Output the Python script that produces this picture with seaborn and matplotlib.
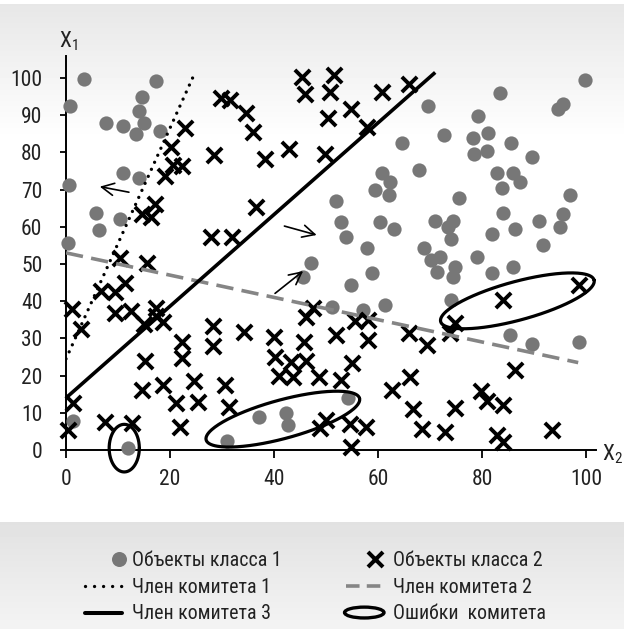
import numpy as np
import pandas as pd
import seaborn as sns
import matplotlib.pyplot as plt
from matplotlib.lines import Line2D
from matplotlib.patches import Ellipse
from matplotlib.legend_handler import HandlerLine2D, HandlerPatch

# class 1 objects (grey dots)
class1_x = [3.5, 0.8, 7.7, 10.9, 13.5, 14, 15, 14.7, 17.4, 18, 0.6, 10.9, 14.1, 5.7, 6.3, 10.3, 0.4,
            1.3, 11.9, 31, 37.2, 42.3, 42.6, 54.2, 47.1, 45.6,
            99.9, 83.5, 69.6, 95.6, 94.7, 79.2, 81.2, 78.3, 72.6, 85.5, 64.6, 80.9, 78.5, 89.6, 67.8,
            60.7, 62.3, 59.4, 62.2, 82.8, 86, 87.4, 83.8, 96.9, 75.6, 51.9, 95.6, 95, 84.1, 91, 86.3,
            81.9, 71, 74.5, 73.4, 74, 60.4, 63.1, 52.8, 53.8, 91.7, 68.8, 57.8,
            58.8, 54.9, 61.3, 51.1, 57.2, 70.2, 71.9, 71.3, 74.8, 74.5, 79, 81.9, 86, 74, 85.4, 89.6, 98.7]
class1_y = [99.7, 92.5, 88, 87, 85, 91, 88, 95, 99.2, 85.8, 71.2, 74.4, 73.2, 63.6, 59.1, 62.1, 55.7,
            7.8, 0.5, 2.3, 8.8, 10, 6.8, 13.9, 50.3, 46.4,
            99.6, 96, 92.5, 92.9, 91.8, 89.8, 85.3, 84, 84.8, 82.4, 82.4, 80.5, 79.6, 78.9, 75.3,
            74.5, 72.1, 69.9, 68.5, 74.5, 74.5, 72.1, 70.5, 68.5, 67.7, 67, 63.4, 60, 63.7, 61.6, 59.3,
            58.2, 61.6, 61.6, 60, 56.6, 61.2, 59.3, 61.2, 57.2, 55.1, 54.2, 54.2,
            47.5, 44.4, 39, 38.4, 37.6, 51.2, 51.8, 47.9, 49.3, 46.6, 52, 47.5, 49.1, 40.3, 30.9, 28.5, 29.1]

# class 2 objects (crosses)
class2_x = [45.3, 46, 29.9, 31.5, 34.6, 35.9, 42.8, 38.3, 28.4, 22.8, 20.1, 20.5, 22.3, 19, 17.1, 14.6,
            16.3, 36.5, 27.8, 31.9, 51.6, 50.8, 50.4, 54.8, 60.7, 66, 57.8, 49.8,
            10.3, 15.5, 6.7, 9.4, 11.4, 1.2, 2.9, 9.4, 12.5, 15, 17.3, 18.6, 17.4,
            28.3, 28.3, 22.3, 22.3, 34.2, 15.2, 14.7, 18.6, 21.1, 24.6, 25.4, 21.9, 30.6, 31.4,
            40, 40.2, 41, 43.3, 46.2, 43.7, 45.8, 46.1, 47.5, 48.7, 52, 52.8, 55, 55.6, 58, 58.1,
            62.6, 65.9, 66.1, 66.8,
            1.3, 0.4, 7.5, 12.7, 48.8, 50, 54.7, 57.6, 54.9, 68.4, 72.9, 69.5, 73.8, 74.9, 74.8,
            79.9, 81, 84.1, 86.3, 82.8, 84.1, 93.4, 84.1, 98.6]
class2_y = [100.3, 95.6, 94.5, 94.1, 90.5, 85.5, 81, 78.2, 79.2, 86.6, 81.4, 76.5, 76.3, 73.7, 66.2, 63.4,
            62.6, 65.4, 57.3, 57.2, 100.8, 96.3, 89.3, 91.6, 96.3, 98.4, 86.7, 79.5,
            51.5, 50.3, 42.8, 42.6, 44.8, 38, 32.4, 36.7, 37.4, 33.9, 35.9, 34.4, 38.1,
            33.3, 27.9, 29, 24.8, 31.8, 23.8, 16.2, 17.5, 12.6, 18.6, 12.9, 6.1, 17.4, 11.6,
            30.3, 25, 19.8, 23.6, 24, 19.7, 28.9, 35.8, 38.2, 19.7, 30.9, 18.8, 23.5, 34.7, 35, 29.5,
            16.2, 31.5, 19.7, 11.1,
            12.7, 5.5, 7.6, 7.2, 5.8, 8.1, 7, 6.3, 0.9, 5.6, 4.9, 28.2, 31.5, 34.1, 11.2,
            15.8, 13.3, 12.1, 21.5, 4, 2.2, 5.5, 40.2, 44.4]

# committee members (line end points)
member1_x = [0, 24.5]
member1_y = [24.5, 100.5]
member2_x = [0, 98.5]
member2_y = [53, 23.5]
member3_x = [0, 71]
member3_y = [14, 101.5]

# committee errors: centre, half major axis vector, half minor axis vector
err_cx = [11.2, 41.7, 86.8]
err_cy = [0.5, 8.3, 40.1]
err_ax = [2.9, 14.75, 14.75]
err_ay = [0.0, 5.6, 5.6]
err_bx = [0.0, -0.97, -0.97]
err_by = [6.4, 5.0, 5.0]

# arrows: tail -> tip
arr_tail = [(12.1, 69.3), (42, 60.2), (40.2, 42.1)]
arr_tip = [(6.5, 70.8), (48.2, 57.8), (45.6, 48.1)]

labels_left = ['Объекты класса 1', 'Член комитета 1', 'Член комитета 3']
labels_right = ['Объекты класса 2', 'Член комитета 2', 'Ошибки  комитета']

sns.set_theme(style='ticks')
plt.rcParams['font.family'] = ['Roboto Condensed', 'Liberation Sans', 'DejaVu Sans']
plt.rcParams['mathtext.default'] = 'regular'

W, H = 624, 629
fig = plt.figure(figsize=(W / 100, H / 100), dpi=100)

# background gradients
grad = np.ones(H)
grad[4:140] = np.linspace(0.905, 1.0, 136)
grad[522:] = np.linspace(0.885, 0.955, H - 522)
bg = fig.add_axes([0, 0, 1, 1], zorder=-10)
bg.imshow(grad[:, None], cmap='gray', vmin=0, vmax=1, aspect='auto', extent=[0, 1, 0, 1])
bg.axis('off')

ax = fig.add_axes([66 / W, (H - 450) / H, 530.4 / W, 394.3 / H])
ax.patch.set_alpha(0)

grey = '#777777'
df1 = pd.DataFrame({'x': class1_x, 'y': class1_y})
df2 = pd.DataFrame({'x': class2_x, 'y': class2_y})
sns.scatterplot(data=df1, x='x', y='y', color=grey, s=105, linewidth=0, ax=ax, clip_on=False, zorder=3)
sns.scatterplot(data=df2, x='x', y='y', marker='x', color='black', s=120, linewidth=2.8, ax=ax,
                clip_on=False, zorder=4)

ax.plot(member1_x, member1_y, color='black', lw=2.4, linestyle=(0, (0.01, 2.3)),
        dash_capstyle='round', zorder=5)
ax.plot(member2_x, member2_y, color='#858585', lw=2.6, linestyle=(0, (4.8, 2.3)), zorder=5)
ax.plot(member3_x, member3_y, color='black', lw=2.6, zorder=5, solid_capstyle='butt')

t = np.linspace(0, 2 * np.pi, 200)
for cx, cy, axx, axy, bx, by in zip(err_cx, err_cy, err_ax, err_ay, err_bx, err_by):
    ax.plot(cx + np.cos(t) * axx + np.sin(t) * bx, cy + np.cos(t) * axy + np.sin(t) * by,
            color='black', lw=2.3, clip_on=False, zorder=6)

for tail, tip in zip(arr_tail, arr_tip):
    ax.annotate('', xy=tip, xytext=tail,
                arrowprops=dict(arrowstyle='->', lw=1.2, color='black', mutation_scale=22,
                                shrinkA=0, shrinkB=0))

ax.set_xlim(0, 102)
ax.set_ylim(0, 106)
ax.set_xticks(range(0, 101, 20))
ax.set_yticks(range(0, 101, 10))
ax.set_xlabel('')
ax.set_ylabel('')
sns.despine(ax=ax)
for s in ['left', 'bottom']:
    ax.spines[s].set_color('black')
    ax.spines[s].set_linewidth(1.4)
ax.tick_params(axis='x', length=6, width=1.3, pad=8, labelsize=15.5, colors='black', labelcolor='#222222')
ax.tick_params(axis='y', length=4, width=1.3, pad=13, labelsize=15.5, colors='black', labelcolor='#222222')

fig.text(59 / W, 1 - 47 / H, r'$\mathregular{X_1}$', fontsize=15.5, color='#222222', ha='left', va='baseline')
fig.text(602 / W, 1 - 460 / H, r'$\mathregular{X_2}$', fontsize=15.5, color='#222222', ha='left', va='baseline')


class ShiftedMarker(HandlerLine2D):
    # single marker placed at a fraction of the handle width
    def __init__(self, frac, **kw):
        super().__init__(**kw)
        self.frac = frac

    def get_xdata(self, legend, xdescent, ydescent, width, height, fontsize):
        pos = -xdescent + self.frac * width
        return np.array([pos - 0.5, pos + 0.5]), np.array([pos])


def make_ellipse(legend, orig_handle, xdescent, ydescent, width, height, fontsize):
    return Ellipse(xy=(0.5 * width - xdescent, 0.5 * height - ydescent),
                   width=width * 1.08, height=height * 0.78)


h_c1 = Line2D([], [], marker='o', color=grey, linestyle='none', markersize=10.8, markeredgewidth=0)
h_m1 = Line2D([], [], color='black', lw=2.4, linestyle=(0, (0.01, 2.7)), dash_capstyle='round')
h_m3 = Line2D([], [], color='black', lw=2.9)
h_c2 = Line2D([], [], marker='x', color='black', linestyle='none', markersize=10.8, markeredgewidth=2.9)
h_m2 = Line2D([], [], color='#858585', lw=2.6, linestyle=(0, (3.75, 2.0)))
h_err = Ellipse((0, 0), 1, 1, fill=False, lw=2.4, edgecolor='black')

leg_kw = dict(loc='upper left', frameon=False, fontsize=14.3, handlelength=1.84, handletextpad=0.53,
              labelspacing=0.39, borderpad=0, borderaxespad=0, labelcolor='#222222')
fig.legend(handles=[h_c1, h_m1, h_m3], labels=labels_left, bbox_to_anchor=(85 / W, 1 - 551 / H),
           handler_map={h_c1: ShiftedMarker(0.93)}, **leg_kw)
fig.legend(handles=[h_c2, h_m2, h_err], labels=labels_right, bbox_to_anchor=(346 / W, 1 - 551 / H),
           handler_map={h_c2: ShiftedMarker(0.79), h_err: HandlerPatch(patch_func=make_ellipse)},
           **leg_kw)

fig.savefig('out.png', dpi=100)
